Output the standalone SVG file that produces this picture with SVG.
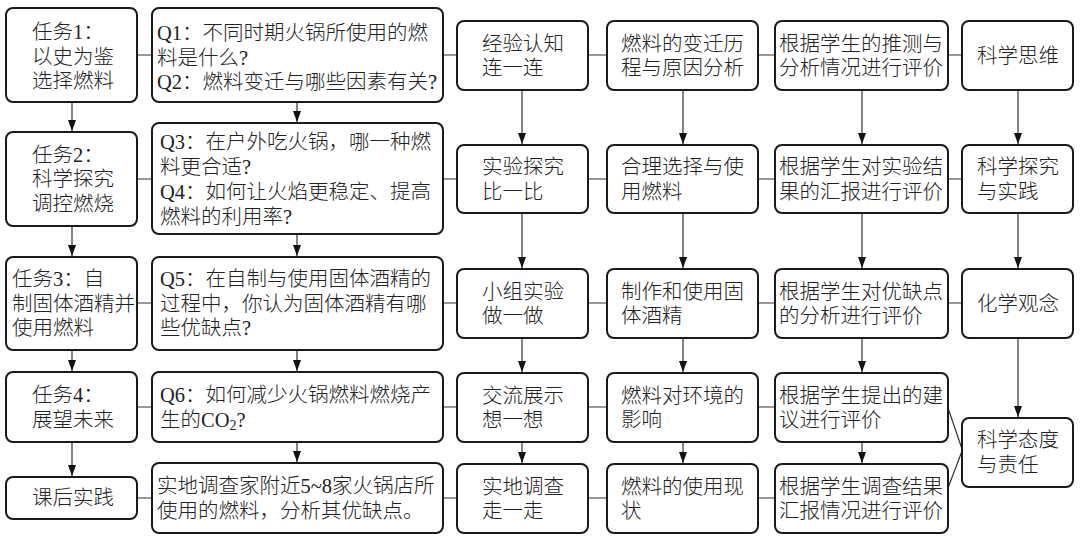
<svg xmlns="http://www.w3.org/2000/svg" width="1080" height="547" viewBox="0 0 1080 547">
<style>
.box{fill:#fff;stroke:#1a1a1a;stroke-width:2}
.t{font-family:"Liberation Serif","Noto Sans CJK SC",serif;font-size:20.5px;font-weight:300;fill:#222;dominant-baseline:central}
.c{stroke:#333;stroke-width:1.2;fill:none}
.a{stroke:#333;stroke-width:1.2;fill:none;marker-end:url(#ah)}
</style>
<defs>
<marker id="ah" markerUnits="userSpaceOnUse" markerWidth="11" markerHeight="8" refX="11" refY="4" orient="auto">
<path d="M0,0 L11,4 L0,8 z" fill="#111"/>
</marker>
</defs>
<rect width="1080" height="547" fill="#fff"/>
<g id="connectors">
<path class="c" d="M137,55H152M443,55H457M588,55H607M758,55H775M948,55H962"/>
<path class="c" d="M137,179H152M443,179H457M588,179H607M758,179H775M948,179H962"/>
<path class="c" d="M137,303H152M443,303H457M588,303H607M758,303H775M948,303H962"/>
<path class="c" d="M137,407H152M443,407H456M588,407H607M758,407H775"/>
<path class="c" d="M137,498H152M443,498H456M588,498H607M758,498H775"/>
<path class="c" d="M948,408L962,449M948,488L962,451"/>
<path class="a" d="M72,102V131"/><path class="a" d="M72,226V256"/><path class="a" d="M72,350V371"/><path class="a" d="M72,442V476"/>
<path class="a" d="M297,102V122"/><path class="a" d="M297,234V256"/><path class="a" d="M297,350V371"/><path class="a" d="M297,442V462"/>
<path class="a" d="M522,90V144"/><path class="a" d="M522,213V268"/><path class="a" d="M522,338V372"/><path class="a" d="M522,442V463"/>
<path class="a" d="M683,90V144"/><path class="a" d="M683,213V268"/><path class="a" d="M683,338V372"/><path class="a" d="M683,442V463"/>
<path class="a" d="M862,90V144"/><path class="a" d="M862,213V268"/><path class="a" d="M862,338V372"/><path class="a" d="M862,442V463"/>
<path class="a" d="M1018,90V144"/><path class="a" d="M1018,213V268"/><path class="a" d="M1018,338V417"/>
</g>
<g id="task1"><rect class="box" x="6" y="8" width="131" height="94" rx="7"/>
<text class="t" x="32" y="32">任务1：</text><text class="t" x="32" y="56.5">以史为鉴</text><text class="t" x="32" y="81">选择燃料</text></g>
<g id="task2"><rect class="box" x="6" y="132" width="131" height="94" rx="7"/>
<text class="t" x="32" y="154.5">任务2：</text><text class="t" x="32" y="179">科学探究</text><text class="t" x="32" y="203.5">调控燃烧</text></g>
<g id="task3"><rect class="box" x="6" y="257" width="131" height="93" rx="7"/>
<text class="t" x="12" y="279">任务3：自</text><text class="t" x="12" y="303.5">制固体酒精并</text><text class="t" x="12" y="328">使用燃料</text></g>
<g id="task4"><rect class="box" x="6" y="372" width="131" height="70" rx="7"/>
<text class="t" x="32" y="395">任务4：</text><text class="t" x="32" y="419.5">展望未来</text></g>
<g id="after"><rect class="box" x="6" y="477" width="131" height="42" rx="7"/>
<text class="t" x="32" y="498">课后实践</text></g>
<g id="q12"><rect class="box" x="152" y="8" width="291" height="94" rx="7"/>
<text class="t" x="157" y="33">Q1：不同时期火锅所使用的燃</text><text class="t" x="157" y="57.5">料是什么?</text><text class="t" x="157" y="82">Q2：燃料变迁与哪些因素有关?</text></g>
<g id="q34"><rect class="box" x="152" y="123" width="291" height="111" rx="7"/>
<text class="t" x="160" y="142">Q3：在户外吃火锅，哪一种燃</text><text class="t" x="160" y="167">料更合适?</text><text class="t" x="160" y="192">Q4：如何让火焰更稳定、提高</text><text class="t" x="160" y="217">燃料的利用率?</text></g>
<g id="q5"><rect class="box" x="152" y="257" width="291" height="93" rx="7"/>
<text class="t" x="160" y="279">Q5：在自制与使用固体酒精的</text><text class="t" x="160" y="303.5">过程中，你认为固体酒精有哪</text><text class="t" x="160" y="328">些优缺点?</text></g>
<g id="q6"><rect class="box" x="152" y="372" width="291" height="70" rx="7"/>
<text class="t" x="160" y="395">Q6：如何减少火锅燃料燃烧产</text><text class="t" x="160" y="419.5">生的CO<tspan font-size="14" dy="5">2</tspan><tspan dy="-5">?</tspan></text></g>
<g id="survey"><rect class="box" x="152" y="463" width="291" height="70" rx="7"/>
<text class="t" x="157" y="486">实地调查家附近5~8家火锅店所</text><text class="t" x="157" y="510.5">使用的燃料，分析其优缺点。</text></g>
<g id="a1"><rect class="box" x="457" y="21" width="131" height="69" rx="7"/>
<text class="t" x="482" y="43.5">经验认知</text><text class="t" x="482" y="68">连一连</text></g>
<g id="a2"><rect class="box" x="457" y="145" width="131" height="68" rx="7"/>
<text class="t" x="482" y="167">实验探究</text><text class="t" x="482" y="191.5">比一比</text></g>
<g id="a3"><rect class="box" x="457" y="269" width="131" height="69" rx="7"/>
<text class="t" x="482" y="291.5">小组实验</text><text class="t" x="482" y="316">做一做</text></g>
<g id="a4"><rect class="box" x="457" y="373" width="131" height="69" rx="7"/>
<text class="t" x="482" y="395.5">交流展示</text><text class="t" x="482" y="420">想一想</text></g>
<g id="a5"><rect class="box" x="457" y="464" width="131" height="69" rx="7"/>
<text class="t" x="482" y="486.5">实地调查</text><text class="t" x="482" y="511">走一走</text></g>
<g id="b1"><rect class="box" x="607" y="21" width="151" height="69" rx="7"/>
<text class="t" x="621" y="43.5">燃料的变迁历</text><text class="t" x="621" y="68">程与原因分析</text></g>
<g id="b2"><rect class="box" x="607" y="145" width="151" height="68" rx="7"/>
<text class="t" x="621" y="167">合理选择与使</text><text class="t" x="621" y="191.5">用燃料</text></g>
<g id="b3"><rect class="box" x="607" y="269" width="151" height="69" rx="7"/>
<text class="t" x="621" y="291.5">制作和使用固</text><text class="t" x="621" y="316">体酒精</text></g>
<g id="b4"><rect class="box" x="607" y="373" width="151" height="69" rx="7"/>
<text class="t" x="621" y="395.5">燃料对环境的</text><text class="t" x="621" y="420">影响</text></g>
<g id="b5"><rect class="box" x="607" y="464" width="151" height="69" rx="7"/>
<text class="t" x="621" y="486.5">燃料的使用现</text><text class="t" x="621" y="511">状</text></g>
<g id="e1"><rect class="box" x="775" y="21" width="173" height="69" rx="7"/>
<text class="t" x="779" y="43.5">根据学生的推测与</text><text class="t" x="779" y="68">分析情况进行评价</text></g>
<g id="e2"><rect class="box" x="775" y="145" width="173" height="68" rx="7"/>
<text class="t" x="779" y="167">根据学生对实验结</text><text class="t" x="779" y="191.5">果的汇报进行评价</text></g>
<g id="e3"><rect class="box" x="775" y="269" width="173" height="69" rx="7"/>
<text class="t" x="779" y="291.5">根据学生对优缺点</text><text class="t" x="779" y="316">的分析进行评价</text></g>
<g id="e4"><rect class="box" x="775" y="373" width="173" height="69" rx="7"/>
<text class="t" x="779" y="395.5">根据学生提出的建</text><text class="t" x="779" y="420">议进行评价</text></g>
<g id="e5"><rect class="box" x="775" y="464" width="173" height="69" rx="7"/>
<text class="t" x="779" y="486.5">根据学生调查结果</text><text class="t" x="779" y="511">汇报情况进行评价</text></g>
<g id="k1"><rect class="box" x="962" y="21" width="111" height="69" rx="7"/>
<text class="t" x="977" y="55.5">科学思维</text></g>
<g id="k2"><rect class="box" x="962" y="145" width="111" height="68" rx="7"/>
<text class="t" x="977" y="167">科学探究</text><text class="t" x="977" y="191.5">与实践</text></g>
<g id="k3"><rect class="box" x="962" y="269" width="111" height="69" rx="7"/>
<text class="t" x="977" y="303.5">化学观念</text></g>
<g id="k4"><rect class="box" x="962" y="418" width="111" height="69" rx="7"/>
<text class="t" x="977" y="440">科学态度</text><text class="t" x="977" y="464.5">与责任</text></g>
</svg>
